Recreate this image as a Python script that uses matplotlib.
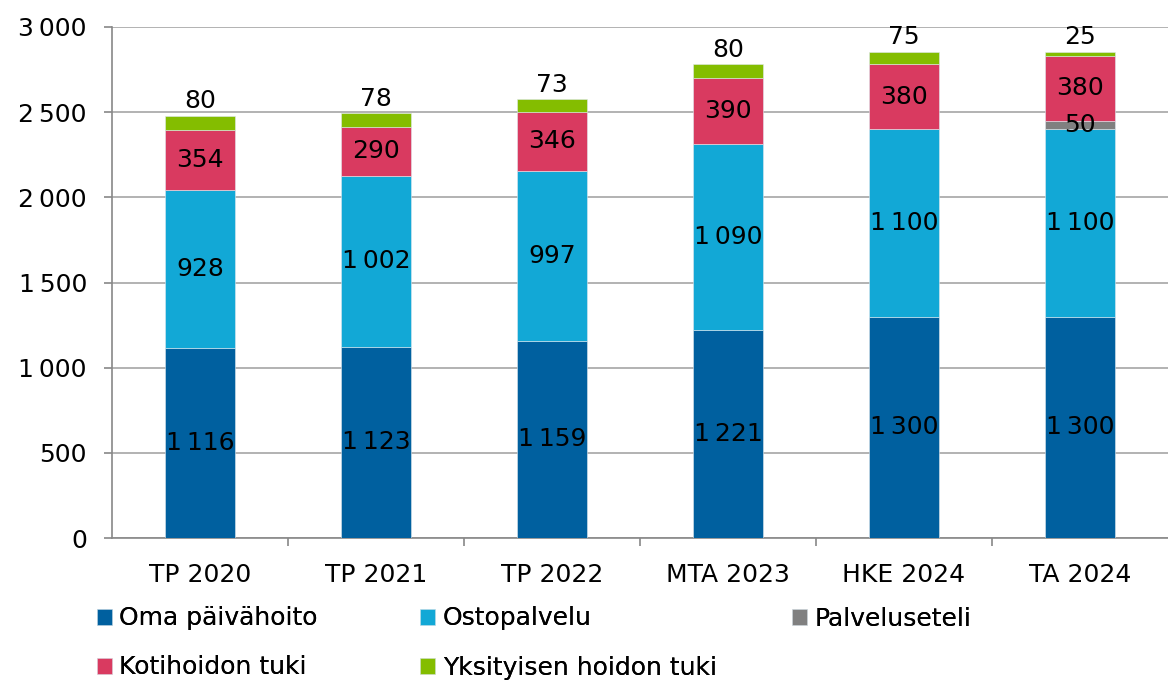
import numpy as np
import matplotlib.pyplot as plt

categories = ['TP 2020', 'TP 2021', 'TP 2022', 'MTA 2023', 'HKE 2024', 'TA 2024']
oma = [1116, 1123, 1159, 1221, 1300, 1300]
osto = [928, 1002, 997, 1090, 1100, 1100]
seteli = [0, 0, 0, 0, 0, 50]
koti = [354, 290, 346, 390, 380, 380]
yksit = [80, 78, 73, 80, 75, 25]

series = [
    ('Oma päivähoito', oma, '#00609f'),
    ('Ostopalvelu', osto, '#12a8d6'),
    ('Palveluseteli', seteli, '#808080'),
    ('Kotihoidon tuki', koti, '#d93a60'),
    ('Yksityisen hoidon tuki', yksit, '#84bd00'),
]

plt.rcParams['font.family'] = ['DejaVu Sans']
FS = 18


def fmt(v):
    s = f'{int(v):,}'
    return s.replace(',', '\u2009')


fig = plt.figure(figsize=(11.68, 6.86), dpi=100)
ax = fig.add_axes([112 / 1168, 1 - 538 / 686, 1056 / 1168, (538 - 27) / 686])

x = np.arange(len(categories))
bottom = np.zeros(len(categories))
handles = []
for name, vals, col in series:
    vals = np.array(vals, dtype=float)
    b = ax.bar(x, vals, 0.4, bottom=bottom, color=col, label=name, zorder=3,
               edgecolor='#dfe8ee', linewidth=0.4)
    handles.append(b)
    for xi, v, bt in zip(x, vals, bottom):
        if v == 0:
            continue
        if name == 'Yksityisen hoidon tuki':
            ax.annotate(fmt(v), (xi, bt + v), xytext=(0, 2), textcoords='offset points',
                        ha='center', va='bottom', fontsize=FS, color='black', zorder=5)
        else:
            ax.text(xi, bt + v / 2, fmt(v), ha='center', va='center', fontsize=FS,
                    color='black', zorder=5)
    bottom += vals

ax.set_xlim(-0.5, len(categories) - 0.5)
ax.set_ylim(0, 3000)
ax.set_yticks(np.arange(0, 3001, 500))
ax.set_yticklabels([fmt(v) for v in np.arange(0, 3001, 500)], fontsize=FS)
ax.set_xticks(x)
ax.set_xticklabels(categories, fontsize=FS)
ax.set_xticks(np.arange(0.5, len(categories) - 0.5, 1), minor=True)
ax.tick_params(axis='x', which='major', length=0, pad=18)
ax.tick_params(axis='x', which='minor', length=6, color='#888888', width=1.2)
ax.tick_params(axis='y', length=6, color='#888888', width=1.2, pad=12)
ax.grid(axis='y', color='#a6a6a6', linewidth=1.2, zorder=0)
for side in ['top', 'right']:
    ax.spines[side].set_visible(False)
for side in ['left', 'bottom']:
    ax.spines[side].set_color('#888888')
    ax.spines[side].set_linewidth(1.2)

# legend columns laid out row-wise like the original
cols = [[0, 3], [1, 4], [2]]
col_x = [74, 398, 769]
for idx, cx in zip(cols, col_x):
    leg = fig.legend(handles=[handles[i] for i in idx], labels=[series[i][0] for i in idx],
                     loc='upper left', bbox_to_anchor=(cx / 1168, 1 - 584 / 686),
                     frameon=False, fontsize=FS, handlelength=0.6, handleheight=0.6,
                     handletextpad=0.3, labelspacing=1.0)
    fig.add_artist(leg)

fig.savefig('out.png', dpi=100)
